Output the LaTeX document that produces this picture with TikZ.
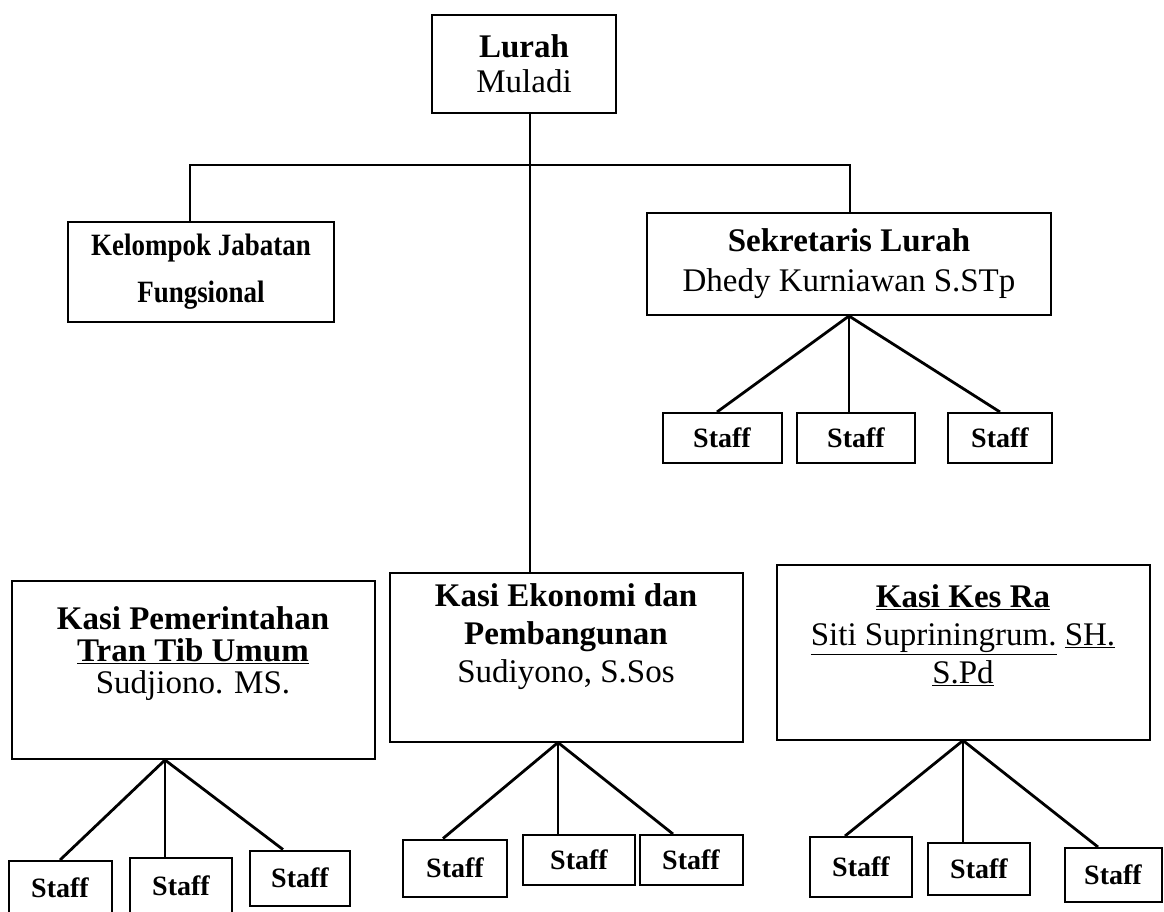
\documentclass[tikz,border=0pt]{standalone}
\usepackage{fontspec}
\setmainfont{Liberation Serif}
\usetikzlibrary{positioning, calc}

\begin{document}
\begin{tikzpicture}[x=1pt, y=-1pt,
    box/.style={draw, line width=2pt, align=center, inner sep=0pt},
    kasitext/.style={align=center, inner sep=0pt, font=\fontsize{33}{38}\selectfont},
    staffbox/.style={draw, line width=2pt, minimum width=103pt, minimum height=52pt, inner sep=0pt, font=\fontsize{28}{30}\selectfont\bfseries},
    fan/.style={line width=2.8pt},
    link/.style={line width=1.8pt}]
    \useasboundingbox (0,0) rectangle (1164,911);

    % Top level
    \node[box, minimum width=184pt, minimum height=98pt, font=\fontsize{33}{35}\selectfont] (lurah) at (524,64) {\textbf{Lurah}\\Muladi};
    \node[box, minimum width=266pt, minimum height=100pt, font=\fontsize{31}{47}\selectfont\bfseries] (kel) at (201,272) {\scalebox{0.87}[1]{Kelompok Jabatan}\\\scalebox{0.87}[1]{Fungsional}};
    \node[box, minimum width=404pt, minimum height=102pt, font=\fontsize{33}{40}\selectfont] (sek) at (849,264) {\textbf{Sekretaris Lurah}\\Dhedy Kurniawan S.STp};

    % Kasi boxes
    \node[box, minimum width=363pt, minimum height=178pt] (pem) at (193,670) {};
    \node[box, minimum width=353pt, minimum height=169pt] (eko) at (566,657) {};
    \node[box, minimum width=373pt, minimum height=175pt] (kes) at (963,652) {};
    \node[kasitext, font=\fontsize{33}{32}\selectfont, below=26pt of pem.north] (pemT) {\textbf{Kasi Pemerintahan}\\\textbf{\underline{Tran Tib Umum}}\\Sudjiono. MS.};
    \node[kasitext, below=12pt of eko.north] (ekoT) {\textbf{Kasi Ekonomi dan}\\\textbf{Pembangunan}\\Sudiyono, S.Sos};
    \node[kasitext, below=21pt of kes.north] (kesT) {\textbf{\underline{Kasi Kes Ra}}\\\underline{Siti Supriningrum.} \underline{SH.}\\\underline{S.Pd}};

    % Staff
    \node[staffbox, minimum width=119pt, minimum height=50pt] (s1) at (722,438) {Staff};
    \node[staffbox, minimum width=118pt, minimum height=50pt] (s2) at (856,438) {Staff};
    \node[staffbox, minimum width=104pt, minimum height=50pt] (s3) at (1000,438) {Staff};

    \node[staffbox, minimum height=54pt] (p1) at (60,888) {Staff};
    \node[staffbox, minimum width=102pt, minimum height=56pt] (p2) at (181,886) {Staff};
    \node[staffbox, minimum width=100pt, minimum height=55pt] (p3) at (300,878) {Staff};

    \node[staffbox, minimum width=104pt, minimum height=57pt] (e1) at (455,868) {Staff};
    \node[staffbox, minimum width=112pt, minimum height=50pt] (e2) at (579,860) {Staff};
    \node[staffbox, minimum height=50pt] (e3) at (691,860) {Staff};

    \node[staffbox, minimum width=102pt, minimum height=60pt] (k1) at (861,867) {Staff};
    \node[staffbox, minimum width=102pt] (k2) at (979,869) {Staff};
    \node[staffbox, minimum width=97pt, minimum height=54pt] (k3) at (1113,875) {Staff};

    % Links
    \coordinate (jl) at (190,165);
    \coordinate (jr) at (850,165);
    \draw[link] ($(lurah.south)+(6,0)$) -- ($(lurah.south |- eko.north)+(6,0)$);
    \draw[link] (jl |- kel.north) -- (jl) -- (jr) -- (jr |- sek.north);

    % Fans
    \coordinate (sekO) at (sek.south);
    \coordinate (pemO) at ($(pem.south)+(-28,0)$);
    \coordinate (ekoO) at ($(eko.south)+(-8,0)$);
    \coordinate (kesO) at (kes.south);

    \draw[fan] (sekO) -- ($(s1.north)+(-5,0)$);
    \draw[fan] (sekO) -- (sekO |- s2.north);
    \draw[fan] (sekO) -- (s3.north);

    \draw[fan] (pemO) -- (p1.north);
    \draw[fan] (pemO) -- (pemO |- p2.north);
    \draw[fan] (pemO) -- ($(p3.north)+(-17,0)$);

    \draw[fan] (ekoO) -- ($(e1.north)+(-12,0)$);
    \draw[fan] (ekoO) -- (ekoO |- e2.north);
    \draw[fan] (ekoO) -- ($(e3.north)+(-18,0)$);

    \draw[fan] (kesO) -- ($(k1.north)+(-16,0)$);
    \draw[fan] (kesO) -- (kesO |- k2.north);
    \draw[fan] (kesO) -- ($(k3.north)+(-15,0)$);
\end{tikzpicture}
\end{document}
